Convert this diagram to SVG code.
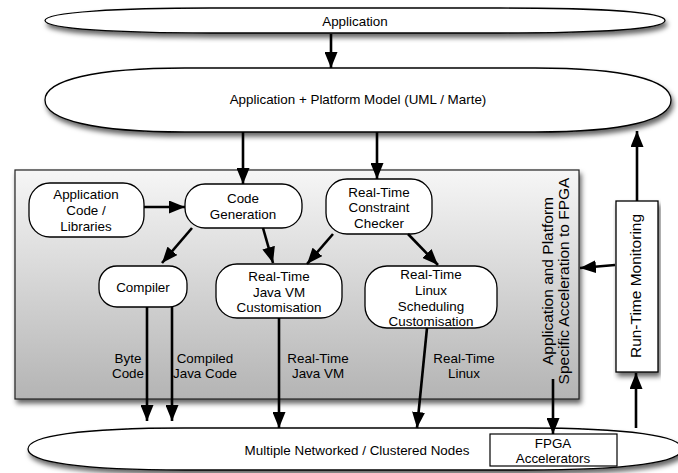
<svg xmlns="http://www.w3.org/2000/svg" width="678" height="473" viewBox="0 0 678 473">
<defs>
<style>
text{font-family:"Liberation Sans",Arial,Helvetica,sans-serif;font-size:13.4px;fill:#000;text-anchor:middle}
.big{font-size:15.5px}
.shape{fill:#fff;stroke:#000;stroke-width:1.3}
.node{fill:#fff;stroke:#000;stroke-width:1.3}
.edge{fill:none;stroke:#000;stroke-width:2.6;marker-end:url(#ah)}
</style>
<marker id="ah" viewBox="0 0 16 13" refX="16" refY="6.5" markerWidth="16" markerHeight="13" markerUnits="userSpaceOnUse" orient="auto">
<path d="M0,0 L16,6.5 L0,13 z" fill="#000"/>
</marker>
<linearGradient id="gbox" x1="0" y1="0" x2="0" y2="1">
<stop offset="0" stop-color="#f6f6f6"/>
<stop offset="1" stop-color="#b4b4b4"/>
</linearGradient>
<filter id="sh" x="-5%" y="-20%" width="112%" height="160%">
<feDropShadow dx="2" dy="4" stdDeviation="2.5" flood-color="#000" flood-opacity="0.6"/>
</filter>
</defs>

<g id="application">
<path class="shape" filter="url(#sh)" d="M45,20.5 C45,12 120,8 210,8 L500,8 C600,8 665,12 665,20.5 C665,29 600,33 500,33 L210,33 C120,33 45,29 45,20.5 Z"/>
<text x="355" y="25.5">Application</text>
</g>

<g id="model">
<path class="shape" filter="url(#sh)" d="M45,100 C45,80 95,68 185,68 L535,68 C625,68 671,80 671,100 C671,120 625,132 535,132 L185,132 C95,132 45,120 45,100 Z"/>
<text x="358" y="104">Application + Platform Model (UML / Marte)</text>
</g>

<g id="acceleration-box">
<rect x="15" y="170" width="564" height="229" fill="url(#gbox)" stroke="#222" stroke-width="1.2" filter="url(#sh)"/>
<text class="big" transform="translate(553,281) rotate(-90)" x="0" y="0">Application and Platform</text>
<text class="big" transform="translate(569,281) rotate(-90)" x="0" y="0">Specific Acceleration to FPGA</text>
</g>

<g id="runtime-monitoring">
<rect x="616" y="201" width="42" height="171" fill="#fff" stroke="#000" stroke-width="1.3" filter="url(#sh)"/>
<text class="big" transform="translate(641,286) rotate(-90)" x="0" y="0">Run-Time Monitoring</text>
</g>

<g id="nodes-platform">
<path class="shape" filter="url(#sh)" d="M28,449 C28,436 80,428 185,428 L525,428 C630,428 682,436 682,449 C682,462 630,470 525,470 L185,470 C80,470 28,462 28,449 Z"/>
<text x="357" y="454.5">Multiple Networked / Clustered Nodes</text>
</g>

<g id="fpga">
<rect x="490" y="434" width="127" height="32" fill="#fff" stroke="#000" stroke-width="1.2"/>
<text x="553" y="447.5">FPGA</text>
<text x="553" y="462.5">Accelerators</text>
</g>

<g id="app-code">
<rect class="node" x="29" y="183" width="115" height="54" rx="21" ry="21"/>
<text x="86" y="198.5">Application</text>
<text x="86" y="214.5">Code /</text>
<text x="86" y="230.5">Libraries</text>
</g>

<g id="code-gen">
<rect class="node" x="185" y="184" width="117" height="44" rx="20" ry="20"/>
<text x="243" y="203">Code</text>
<text x="243" y="219">Generation</text>
</g>

<g id="checker">
<rect class="node" x="326" y="179" width="106" height="55" rx="21" ry="21"/>
<text x="379" y="196.5">Real-Time</text>
<text x="379" y="211.5">Constraint</text>
<text x="379" y="227.5">Checker</text>
</g>

<g id="compiler">
<rect class="node" x="99" y="266" width="88" height="41" rx="18" ry="18"/>
<text x="143" y="291.5">Compiler</text>
</g>

<g id="java-vm">
<rect class="node" x="216" y="264" width="126" height="54" rx="21" ry="21"/>
<text x="279" y="280.5">Real-Time</text>
<text x="279" y="296.5">Java VM</text>
<text x="279" y="312">Customisation</text>
</g>

<g id="linux">
<rect class="node" x="365" y="266" width="132" height="62" rx="22" ry="22"/>
<text x="431" y="278.5">Real-Time</text>
<text x="431" y="294.5">Linux</text>
<text x="431" y="310.5">Scheduling</text>
<text x="431" y="326">Customisation</text>
</g>

<g id="connectors">
<line class="edge" x1="331" y1="34" x2="331" y2="68"/>
<line class="edge" x1="243" y1="132" x2="243" y2="184"/>
<line class="edge" x1="377" y1="132" x2="377" y2="179"/>
<line class="edge" x1="144" y1="207" x2="185" y2="207"/>
<line class="edge" x1="192" y1="228" x2="162" y2="263"/>
<line class="edge" x1="263" y1="228" x2="273" y2="263"/>
<line class="edge" x1="333" y1="234" x2="307" y2="264"/>
<line class="edge" x1="408" y1="234" x2="438" y2="265"/>
<line class="edge" x1="147" y1="307" x2="147" y2="421"/>
<line class="edge" x1="172" y1="307" x2="172" y2="421"/>
<line class="edge" x1="279" y1="318" x2="279" y2="428"/>
<line class="edge" x1="427" y1="328" x2="417" y2="428"/>
<line class="edge" x1="553" y1="379" x2="553" y2="434"/>
<line class="edge" x1="636" y1="428" x2="636" y2="373"/>
<line class="edge" x1="637" y1="201" x2="637" y2="131"/>
<line class="edge" x1="615" y1="265" x2="580" y2="268"/>
<text x="128" y="362.5">Byte</text>
<text x="128" y="377.5">Code</text>
<text x="205" y="362.5">Compiled</text>
<text x="205" y="377.5">Java Code</text>
<text x="318" y="362.5">Real-Time</text>
<text x="318" y="377.5">Java VM</text>
<text x="464" y="362.5">Real-Time</text>
<text x="464" y="377.5">Linux</text>
</g>
</svg>
